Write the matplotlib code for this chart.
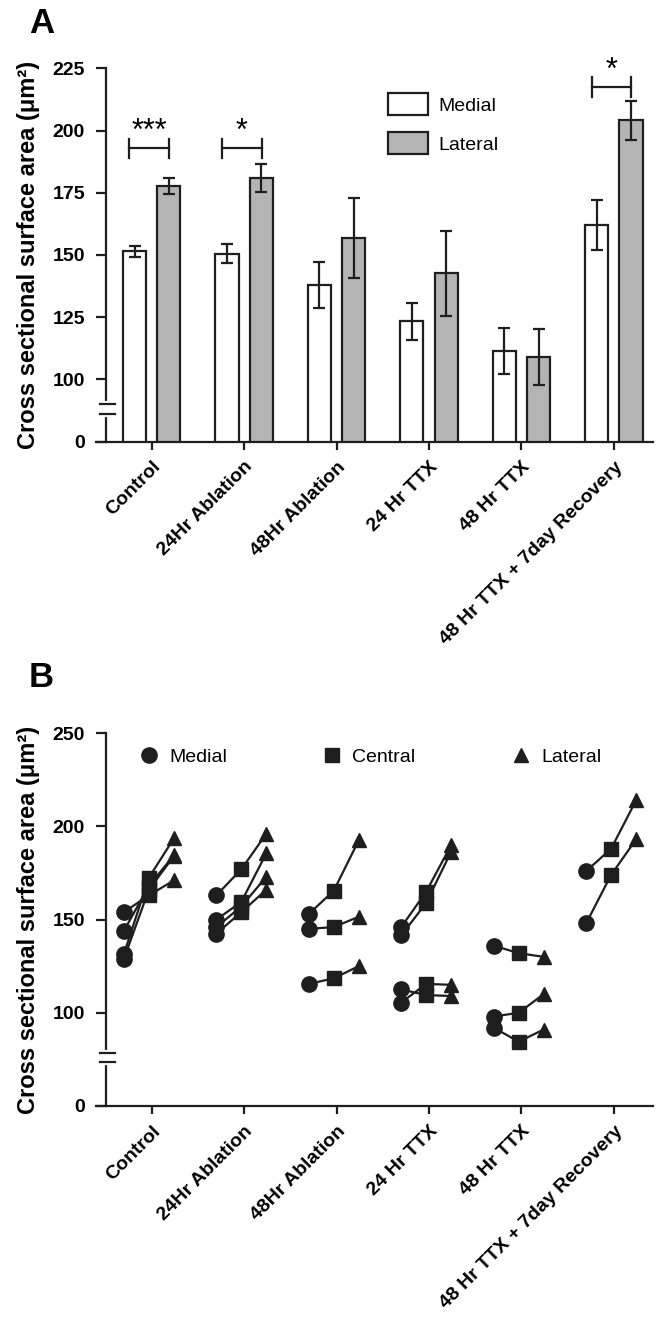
import matplotlib
matplotlib.use('Agg')
from matplotlib import pyplot as plt
from matplotlib.patches import Patch
from matplotlib.lines import Line2D
import numpy as np

plt.rcParams['font.family'] = ['Liberation Sans', 'DejaVu Sans']

groups = ['Control', '24Hr Ablation', '48Hr Ablation', '24 Hr TTX', '48 Hr TTX',
          '48 Hr TTX + 7day Recovery']

# panel A - mean +/- error
medial_mean = [151.5, 150.5, 138.0, 123.3, 111.3, 162.0]
medial_err = [2.2, 3.8, 9.3, 7.5, 9.2, 10.0]
lateral_mean = [177.7, 180.8, 156.7, 142.6, 109.0, 204.1]
lateral_err = [3.3, 5.6, 16.0, 17.0, 11.3, 7.8]
sig_groups = [0, 1, 5]
sig_labels = ['***', '*', '*']
sig_level = [192.8, 192.8, 217.6]

# panel B - individual animals (medial, central, lateral)
animals = [
    (0, [154.0, 163.0, 171.0]),
    (0, [144.0, 168.0, 184.5]),
    (0, [131.5, 172.5, 193.5]),
    (0, [129.0, 166.0, 184.0]),
    (1, [163.0, 177.0, 196.0]),
    (1, [150.0, 159.5, 185.5]),
    (1, [146.0, 157.0, 173.0]),
    (1, [142.5, 154.0, 166.0]),
    (2, [153.0, 165.5, 192.5]),
    (2, [145.0, 146.0, 151.5]),
    (2, [115.5, 118.5, 125.0]),
    (3, [146.0, 165.0, 190.0]),
    (3, [141.5, 159.0, 186.5]),
    (3, [112.5, 109.5, 109.0]),
    (3, [105.5, 115.5, 115.0]),
    (4, [136.0, 132.0, 130.0]),
    (4, [98.0, 100.0, 110.0]),
    (4, [92.0, 84.5, 91.0]),
    (5, [176.0, 188.0, 214.0]),
    (5, [148.0, 174.0, 193.0]),
]

dark = '#1e1e1e'
grey = '#b4b4b4'

fig = plt.figure(figsize=(6.61, 13.22), dpi=100)
axA = fig.add_axes([0.1455, 0.666, 0.842, 0.2823])
axB = fig.add_axes([0.1455, 0.1634, 0.842, 0.282])

x = np.arange(len(groups))
w = 0.25
off = 0.185
sx = -0.495  # y axis position

def style_axis(ax, lo, top, ticks, brk):
    ax.set_xlim(-0.6, 5.42)
    ax.set_ylim(lo, top)
    for s in ['top', 'right']:
        ax.spines[s].set_visible(False)
    ax.spines['left'].set_position(('data', sx))
    for s in ['left', 'bottom']:
        ax.spines[s].set_linewidth(1.6)
        ax.spines[s].set_color(dark)
    ax.set_yticks(ticks)
    ax.set_yticklabels(['0'] + [str(t) for t in ticks[1:]], fontsize=14, fontweight='bold')
    ax.set_xticks(x)
    ax.set_xticklabels(groups, rotation=45, ha='right', rotation_mode='anchor',
                       fontsize=14, fontweight='bold')
    ax.tick_params(axis='y', direction='out', length=7, width=1.6, color=dark, pad=8)
    ax.tick_params(axis='x', direction='out', length=6, width=1.6, color=dark, pad=6)
    ax.set_ylabel('Cross sectional surface area (μm²)', fontsize=17,
                  fontweight='bold', labelpad=9)
    # axis break
    ax.plot([sx, sx], [brk[0] + 0.4, brk[1] - 0.4], color='white', lw=3,
            clip_on=False, zorder=4)
    for b in brk:
        ax.plot([sx - 0.065, sx + 0.1], [b, b], color=dark, lw=1.6, clip_on=False, zorder=5)

# ---- panel A
axA.bar(x - off, medial_mean, w, color='white', edgecolor=dark, linewidth=1.6,
        label='Medial', zorder=2)
axA.bar(x + off, lateral_mean, w, color=grey, edgecolor=dark, linewidth=1.6,
        label='Lateral', zorder=2)
axA.errorbar(x - off, medial_mean, yerr=medial_err, fmt='none', ecolor=dark,
             elinewidth=1.6, capsize=4, capthick=1.6, zorder=3)
axA.errorbar(x + off, lateral_mean, yerr=lateral_err, fmt='none', ecolor=dark,
             elinewidth=1.6, capsize=4, capthick=1.6, zorder=3)
style_axis(axA, 75, 225, [75, 100, 125, 150, 175, 200, 225], (90.2, 86.2))

for g, lab, lev in zip(sig_groups, sig_labels, sig_level):
    axA.plot([g - 0.24, g + 0.19], [lev, lev], color=dark, lw=1.6)
    axA.plot([g - 0.24, g - 0.24], [lev - 4, lev + 4], color=dark, lw=1.6)
    axA.plot([g + 0.19, g + 0.19], [lev - 4, lev + 4], color=dark, lw=1.6)
    axA.text(g - 0.025, lev + 0.5, lab, ha='center', va='bottom', fontsize=22,
             clip_on=False)

hA = [Patch(facecolor='white', edgecolor=dark, linewidth=1.6),
      Patch(facecolor=grey, edgecolor=dark, linewidth=1.6)]
axA.legend(hA, ['Medial', 'Lateral'], loc='upper left', bbox_to_anchor=(0.524, 0.934),
           frameon=False, fontsize=14, handlelength=2.05, handleheight=1.4,
           labelspacing=0.85, handletextpad=0.55, borderpad=0, borderaxespad=0)

# ---- panel B
xoffs = [-0.3, -0.03, 0.24]
for g, vals in animals:
    axB.plot(g + np.array(xoffs), vals, color=dark, lw=1.6, zorder=2)
    axB.plot(g + xoffs[0], vals[0], 'o', color=dark, ms=11, zorder=3)
    axB.plot(g + xoffs[1], vals[1], 's', color=dark, ms=10.5, zorder=3)
    axB.plot(g + xoffs[2], vals[2], '^', color=dark, ms=10.5, zorder=3)
style_axis(axB, 50, 250, [50, 100, 150, 200, 250], (78.4, 73.4))

hB = [Line2D([], [], marker='o', ls='none', color=dark, ms=11),
      Line2D([], [], marker='s', ls='none', color=dark, ms=10),
      Line2D([], [], marker='^', ls='none', color=dark, ms=10.5)]
axB.legend(hB, ['Medial', 'Central', 'Lateral'], loc='center left',
           bbox_to_anchor=(0.077, 0.936), ncol=3, frameon=False, fontsize=14,
           handlelength=1.0, handletextpad=0.55, columnspacing=4.9,
           borderpad=0, borderaxespad=0)

fig.text(29 / 661, 1 - 33 / 1322, 'A', fontsize=25, fontweight='bold')
fig.text(29 / 661, 1 - 687 / 1322, 'B', fontsize=25, fontweight='bold')

fig.savefig('out.png', dpi=100)
